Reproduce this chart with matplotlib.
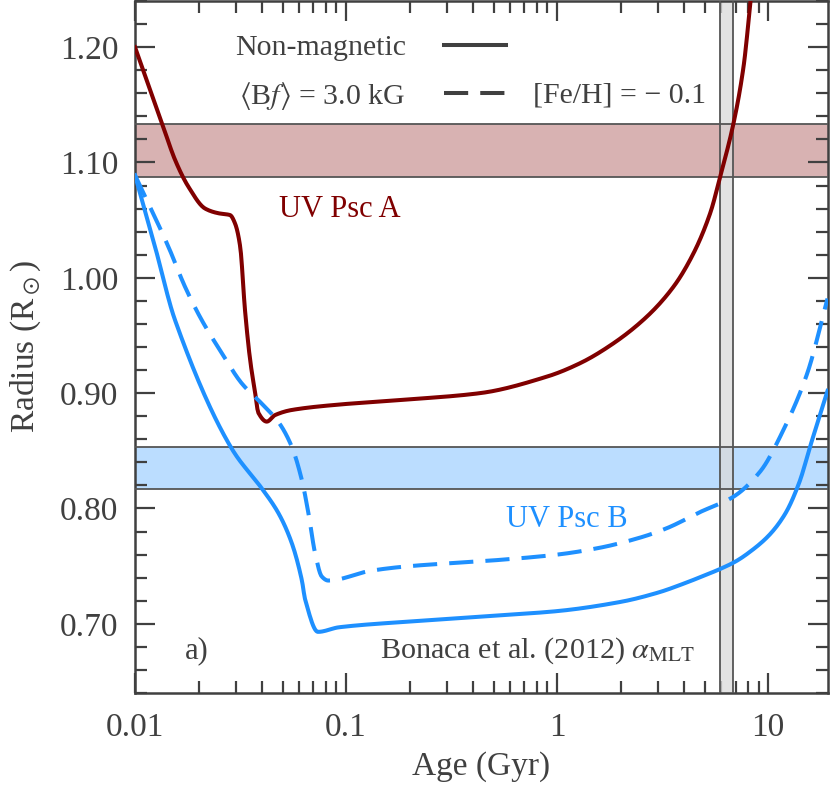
import matplotlib
matplotlib.use("Agg")
import matplotlib.pyplot as plt
from matplotlib.lines import Line2D
from matplotlib.ticker import MultipleLocator, LogLocator, FixedLocator, FixedFormatter
import numpy as np

plt.rcParams['font.family'] = ['Liberation Serif', 'DejaVu Serif']
plt.rcParams['mathtext.fontset'] = 'stix'

red = '#800000'
blue = '#1e90ff'
grey = '#404040'
fs_tick = 24      # tick labels and axis labels
fs_leg = 21.5     # legend
fs_note = 22      # star names and notes

# UV Psc A, non-magnetic track (age in Gyr, radius in Rsun)
age_a = [0.01, 0.0136, 0.0155, 0.0179, 0.0215, 0.0248, 0.0282, 0.0298, 0.0315,
         0.0332, 0.0351, 0.0371, 0.0384, 0.0421, 0.0461, 0.0553, 0.0887, 0.18,
         0.4315, 0.894, 1.286, 1.849, 2.66, 3.56, 4.42, 5.31, 5.92, 6.85, 7.64, 8.3]
rad_a = [1.200, 1.131, 1.102, 1.079, 1.060, 1.056, 1.0544, 1.047, 1.027,
         0.972, 0.929, 0.900, 0.883, 0.8753, 0.881, 0.8854, 0.8898, 0.894,
         0.900, 0.9143, 0.926, 0.9432, 0.9663, 0.9923, 1.021, 1.056, 1.0876,
         1.134, 1.183, 1.245]

# UV Psc B, non-magnetic track
age_b = [0.01, 0.01244, 0.01547, 0.0287, 0.0398, 0.0478, 0.0553,
         0.0617, 0.064, 0.0736, 0.0927, 0.2, 0.5, 1.0, 2.0, 3.0, 4.0, 5.0, 6.0,
         7.0, 8.0, 10.0, 12.0, 14.0, 16.0, 19.1]
rad_b = [1.089, 1.027, 0.9634, 0.852, 0.8176, 0.796, 0.770,
         0.738, 0.721, 0.693, 0.697, 0.702, 0.707, 0.711, 0.719, 0.727, 0.735,
         0.742, 0.748, 0.754, 0.761, 0.776, 0.795, 0.822, 0.857, 0.902]

# UV Psc B, magnetic track <Bf> = 3.0 kG
age_bm = [0.01, 0.01439, 0.01725, 0.0207, 0.0258, 0.032, 0.0398, 0.0478, 0.0553,
          0.0617, 0.0663, 0.0713, 0.0767, 0.0823, 0.131, 0.2, 0.5, 1.0, 1.6,
          2.5, 3.32, 4.77, 6.82, 9.16, 11.8, 15.3, 19.1]
rad_bm = [1.089, 1.027, 0.9923, 0.9634, 0.9346, 0.9086, 0.891, 0.875, 0.8536,
          0.8248, 0.796, 0.7613, 0.741, 0.7375, 0.746, 0.750, 0.755, 0.760, 0.766,
          0.775, 0.783, 0.797, 0.810, 0.832, 0.868, 0.917, 0.982]

# observed radii and age range
radius_a = (1.087, 1.133)
radius_b = (0.817, 0.853)
age_range = (5.9, 6.8)

xticks = [0.01, 0.1, 1, 10]
xticklabels = ['0.01', '0.1', '1', '10']
yticks = [0.70, 0.80, 0.90, 1.00, 1.10, 1.20]


def smooth(x, y, n=600):
    # monotone cubic hermite in log(age)
    lx = np.log10(x)
    y = np.asarray(y, dtype=float)
    t = np.linspace(lx[0], lx[-1], n)
    d = np.diff(y) / np.diff(lx)
    m = np.zeros_like(y)
    m[1:-1] = np.where(d[:-1] * d[1:] > 0, 2 / (1 / d[:-1] + 1 / d[1:]), 0)
    m[0], m[-1] = d[0], d[-1]
    idx = np.clip(np.searchsorted(lx, t) - 1, 0, len(lx) - 2)
    h = lx[idx + 1] - lx[idx]
    s = (t - lx[idx]) / h
    h00 = 2 * s**3 - 3 * s**2 + 1
    h10 = s**3 - 2 * s**2 + s
    h01 = -2 * s**3 + 3 * s**2
    h11 = s**3 - s**2
    yy = h00 * y[idx] + h10 * h * m[idx] + h01 * y[idx + 1] + h11 * h * m[idx + 1]
    return 10**t, yy


fig = plt.figure(figsize=(8.31, 7.87), dpi=100)
ax = fig.add_axes([135 / 831, 1 - 693 / 787, 693 / 831, 692 / 787])

ax.axhspan(*radius_a, facecolor=red, alpha=0.3, edgecolor='none', zorder=1)
ax.axhspan(*radius_b, facecolor=blue, alpha=0.3, edgecolor='none', zorder=1)
ax.axvspan(*age_range, facecolor='#dadada', alpha=0.75, edgecolor='none', zorder=2)
for r in radius_a + radius_b:
    ax.axhline(r, color='#555555', lw=1.3, zorder=3)
for a in age_range:
    ax.axvline(a, color='#555555', lw=1.3, zorder=3)

ax.plot(*smooth(age_a, rad_a), color=red, lw=2.9, zorder=4)
ax.plot(*smooth(age_b, rad_b), color=blue, lw=2.9, zorder=4)
ax.plot(*smooth(age_bm, rad_bm), color=blue, lw=2.9, dashes=(6, 3), zorder=4)

ax.set_xscale('log')
ax.set_xlim(0.01, 19.2)
ax.set_ylim(0.64, 1.24)

ax.xaxis.set_major_locator(FixedLocator(xticks))
ax.xaxis.set_major_formatter(FixedFormatter(xticklabels))
ax.xaxis.set_minor_locator(LogLocator(base=10, subs=np.arange(2, 10), numticks=20))
ax.xaxis.set_minor_formatter(FixedFormatter([]))
ax.yaxis.set_major_locator(FixedLocator(yticks))
ax.yaxis.set_major_formatter(FixedFormatter(['%.2f' % v for v in yticks]))
ax.yaxis.set_minor_locator(MultipleLocator(0.02))

ax.tick_params(which='both', direction='in', top=True, right=True, color=grey,
               labelcolor=grey, labelsize=fs_tick)
ax.tick_params(which='major', length=14.5, width=1.6)
ax.tick_params(which='minor', length=8.5, width=1.6)
ax.tick_params(axis='y', pad=12)
ax.tick_params(axis='x', pad=14)
for sp in ax.spines.values():
    sp.set_color(grey)
    sp.set_linewidth(1.8)

ax.set_xlabel('Age (Gyr)', fontsize=fs_tick, color=grey, labelpad=6)
ax.set_ylabel(r'Radius (R$_\odot$)', fontsize=fs_tick, color=grey, labelpad=12)

ax.text(0.0937, 1.059, 'UV Psc A', color=red, fontsize=fs_note, ha='center', va='center')
ax.text(1.11, 0.790, 'UV Psc B', color=blue, fontsize=fs_note, ha='center', va='center')
ax.text(0.0197, 0.677, 'a)', color=grey, fontsize=fs_note, ha='center', va='center')
ax.text(4.45, 0.677, r'Bonaca et al. (2012) $\alpha_{\rm MLT}$', color=grey,
        fontsize=21.7, ha='right', va='center')

handles = [Line2D([], [], color=grey, lw=2.9),
           Line2D([], [], color=grey, lw=2.9, dashes=(6, 3))]
labels = ['Non-magnetic', r'$\langle$B$f\rangle$ = 3.0 kG']
leg = ax.legend(handles, labels, loc='upper left', bbox_to_anchor=(0.144, 0.952),
                frameon=False, markerfirst=False, fontsize=fs_leg, handlelength=2.1,
                handletextpad=1.27, labelspacing=0.62, borderpad=0, borderaxespad=0)
for t in leg.get_texts():
    t.set_color(grey)
ax.text(0.574, 0.863, '[Fe/H] = \u2212 0.1', transform=ax.transAxes, color=grey,
        fontsize=fs_leg, ha='left', va='center')

fig.savefig('out.png', dpi=100)
